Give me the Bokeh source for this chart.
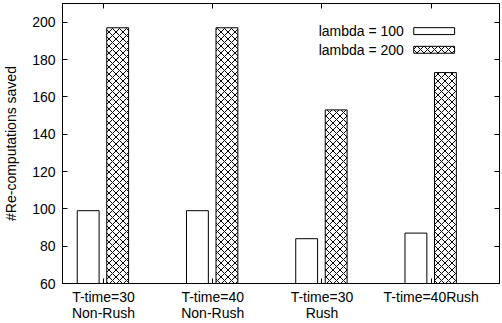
from bokeh.plotting import figure
from bokeh.models import ColumnDataSource, Range1d, FixedTicker, LinearAxis
from bokeh.transform import dodge
from bokeh.core.properties import value
from bokeh.embed import file_html
from bokeh.resources import INLINE

# ---- data ----
categories = ["T-time=30\nNon-Rush", "T-time=40\nNon-Rush", "T-time=30\nRush", "T-time=40Rush"]
lambda100 = [99, 99, 84, 87]
lambda200 = [197, 197, 153, 173]
series_names = ["lambda = 100", "lambda = 200"]
y_ticks = [60, 80, 100, 120, 140, 160, 180, 200]

FONT = "Liberation Sans"
FS = "14px"

idx = list(range(len(categories)))
src = ColumnDataSource(dict(x=idx, a=lambda100, b=lambda200))

p = figure(width=502, height=323, output_backend="svg", toolbar_location=None,
           x_range=Range1d(-0.375, 3.625), y_range=Range1d(60, 210),
           min_border_left=61, min_border_right=3, min_border_top=3, min_border_bottom=39)
p.background_fill_color = "white"
p.border_fill_color = "white"
p.outline_line_color = "black"
p.outline_line_width = 1
p.xgrid.visible = False
p.ygrid.visible = False

p.vbar(x=dodge("x", -0.14, range=p.x_range), top="a", bottom=60, width=0.2, source=src,
       fill_color="white", line_color="black", line_width=1)
p.vbar(x=dodge("x", 0.13, range=p.x_range), top="b", bottom=60, width=0.2, source=src,
       fill_color="white", line_color="black", line_width=1,
       hatch_pattern="diagonal_cross", hatch_color="black", hatch_scale=7, hatch_weight=1)

# legend (gnuplot style: label then sample on the right)
p.text(x=[2.75, 2.75], y=[195.2, 185.2], text=series_names, text_align="right",
       text_baseline="middle", text_font=value(FONT), text_font_size=FS, text_color="black")
p.rect(x=[3.027], y=[195.2], width=0.374, height=3.7, fill_color="white",
       line_color="black", line_width=1)
p.rect(x=[3.027], y=[185.2], width=0.374, height=3.7, fill_color="white",
       line_color="black", line_width=1, hatch_pattern="diagonal_cross",
       hatch_color="black", hatch_scale=7, hatch_weight=1)

# axes
xa = p.xaxis[0]
xa.ticker = FixedTicker(ticks=idx)
xa.major_label_overrides = {i: c for i, c in zip(idx, categories)}
ya = p.yaxis[0]
ya.ticker = FixedTicker(ticks=y_ticks)
ya.axis_label = "#Re-computations saved"
ya.axis_label_standoff = 10
ya.axis_label_text_font_style = "normal"

for ax in (xa, ya):
    ax.axis_line_color = "black"
    ax.major_tick_line_color = "black"
    ax.major_tick_in = 5
    ax.major_tick_out = 0
    ax.minor_tick_line_color = None
    ax.major_label_text_font = FONT
    ax.major_label_text_font_size = FS
    ax.major_label_text_color = "black"
    ax.axis_label_text_font = FONT
    ax.axis_label_text_font_size = FS
    ax.axis_label_text_color = "black"
xa.major_label_standoff = 5
xa.major_label_text_line_height = 1.0
ya.major_label_standoff = 7

# mirrored ticks (drawn as minor ticks so no labels are made)
ra = LinearAxis(ticker=FixedTicker(ticks=[], minor_ticks=y_ticks),
                major_label_standoff=0, major_tick_line_color=None,
                minor_tick_in=5, minor_tick_out=0, minor_tick_line_color="black",
                axis_line_color="black")
ta = LinearAxis(ticker=FixedTicker(ticks=[], minor_ticks=idx),
                major_label_standoff=0, major_tick_line_color=None,
                minor_tick_in=5, minor_tick_out=0, minor_tick_line_color="black",
                axis_line_color="black")
p.add_layout(ra, "right")
p.add_layout(ta, "above")

open("out.html", "w").write(file_html(p, INLINE))
